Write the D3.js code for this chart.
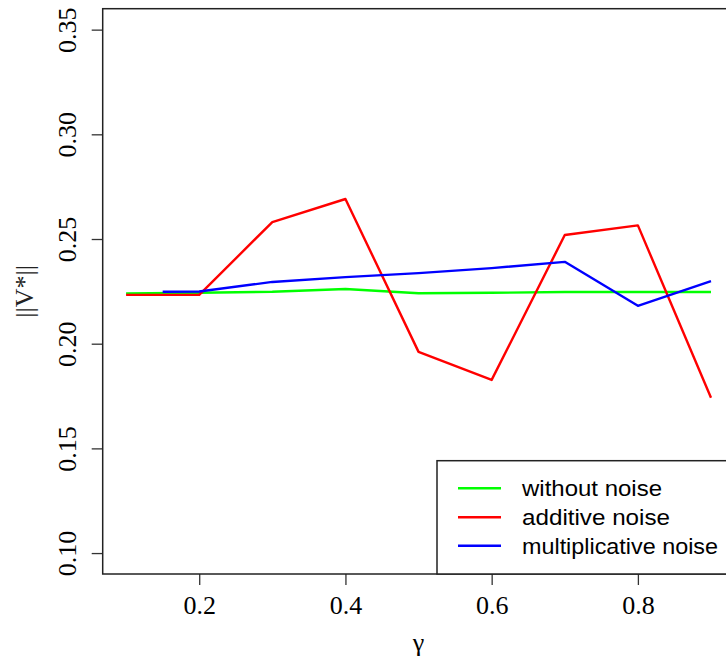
<!DOCTYPE html>
<html>
<head>
<meta charset="utf-8">
<script src="https://cdn.jsdelivr.net/npm/d3@7"></script>
<style>
    body { margin: 0; background: #fff; }
    svg { display: block; }
</style>
</head>
<body>
<div id="chart-1"></div>
<script>

var gamma = [0.1, 0.2, 0.3, 0.4, 0.5, 0.6, 0.7, 0.8, 0.9];
var gammaMult = [0.15, 0.2, 0.3, 0.4, 0.5, 0.6, 0.7, 0.8, 0.9];

var withoutNoise = [0.2240, 0.2243, 0.2248, 0.2261, 0.2241, 0.2243, 0.2247, 0.2247, 0.2247];
var additiveNoise = [0.2233, 0.2233, 0.2581, 0.2691, 0.1961, 0.1827, 0.2519, 0.2565, 0.1742];
var multNoise = [0.2248, 0.2249, 0.2295, 0.2318, 0.2337, 0.2361, 0.2391, 0.2181, 0.2299];

var xTicks = [0.2, 0.4, 0.6, 0.8];
var yTicks = [0.10, 0.15, 0.20, 0.25, 0.30, 0.35];

var seriesNames = ["without noise", "additive noise", "multiplicative noise"];
var seriesColors = ["#00ff00", "#ff0000", "#0000ff"];

var margin = {top: 8.7, right: -8.4, bottom: 87, left: 102.7},
    width = 726 - margin.left - margin.right,
    height = 661 - margin.top - margin.bottom;

// R style axis limits: data range plus 4% each side
var x = d3.scaleLinear().domain([0.068, 0.932]).range([0, width]);
var y = d3.scaleLinear().domain([0.09, 0.36]).range([height, 0]);

var svg = d3.select("#chart-1")
    .append("svg")
    .attr("width", 726)
    .attr("height", 661)
    .append("g")
    .attr("transform", "translate(" + margin.left + "," + margin.top + ")");

var valueline = d3.line()
    .x(function(d) { return x(d[0]); })
    .y(function(d) { return y(d[1]); });

var series = [
    d3.zip(gamma, withoutNoise),
    d3.zip(gamma, additiveNoise),
    d3.zip(gammaMult, multNoise)
];

// Lines
series.forEach(function(s, i) {
    svg.append("path")
        .attr("d", valueline(s))
        .style("fill", "none")
        .style("stroke", seriesColors[i])
        .style("stroke-width", "2.4px")
        .style("stroke-linejoin", "round");
});

// X axis
var xAxis = svg.append("g")
    .attr("transform", "translate(0," + height + ")")
    .call(d3.axisBottom(x).tickValues(xTicks).tickSize(11).tickFormat(d3.format(".1f")));

xAxis.select(".domain").remove();
xAxis.selectAll("line").style("stroke", "#333").style("stroke-width", "1.3px");
xAxis.selectAll("text")
    .attr("y", 40)
    .attr("dy", 0)
    .style("font-family", "'Liberation Serif', 'Times New Roman', serif")
    .style("font-size", "26px")
    .style("fill", "#000");

// Y axis
var yAxis = svg.append("g")
    .call(d3.axisLeft(y).tickValues(yTicks).tickSize(11).tickFormat(d3.format(".2f")));

yAxis.select(".domain").remove();
yAxis.selectAll("line").style("stroke", "#333").style("stroke-width", "1.3px");
yAxis.selectAll("text")
    .attr("x", 0)
    .attr("dy", 0)
    .attr("transform", "translate(-26.7,0) rotate(-90)")
    .attr("text-anchor", "middle")
    .style("font-family", "'Liberation Serif', 'Times New Roman', serif")
    .style("font-size", "26px")
    .style("fill", "#000");

// Plot frame
svg.append("rect")
    .attr("width", width)
    .attr("height", height)
    .style("fill", "none")
    .style("stroke", "#222")
    .style("stroke-width", "1.5px");

// Axis titles
svg.append("text")
    .attr("x", x(0.5))
    .attr("y", height + 77)
    .attr("text-anchor", "middle")
    .style("font-family", "'Liberation Serif', 'Times New Roman', serif")
    .style("font-size", "26px")
    .text("γ");

svg.append("text")
    .attr("transform", "translate(-70," + (height / 2) + ") rotate(-90)")
    .attr("text-anchor", "middle")
    .style("font-family", "'Liberation Serif', 'Times New Roman', serif")
    .style("font-size", "26px")
    .style("fill", "#222")
    .text("||V*||");

// Legend, bottom right
var legendX = 437 - margin.left,
    legendY = 460.7 - margin.top;

var legend = svg.append("g")
    .attr("transform", "translate(" + legendX + "," + legendY + ")");

legend.append("rect")
    .attr("width", width - legendX)
    .attr("height", height - legendY)
    .style("fill", "#fff")
    .style("stroke", "#222")
    .style("stroke-width", "1.5px");

var rowY = [27.6, 56.6, 85];
var textLen = [140, 148, 196];

seriesNames.forEach(function(name, i) {
    legend.append("line")
        .attr("x1", 21)
        .attr("x2", 64)
        .attr("y1", rowY[i])
        .attr("y2", rowY[i])
        .style("stroke", seriesColors[i])
        .style("stroke-width", "2.4px");

    legend.append("text")
        .attr("x", 85)
        .attr("y", rowY[i] + 8)
        .attr("textLength", textLen[i])
        .attr("lengthAdjust", "spacingAndGlyphs")
        .style("font-family", "'Liberation Sans', Arial, sans-serif")
        .style("font-size", "22px")
        .style("fill", "#000")
        .text(name);
});

</script>
</body>
</html>
